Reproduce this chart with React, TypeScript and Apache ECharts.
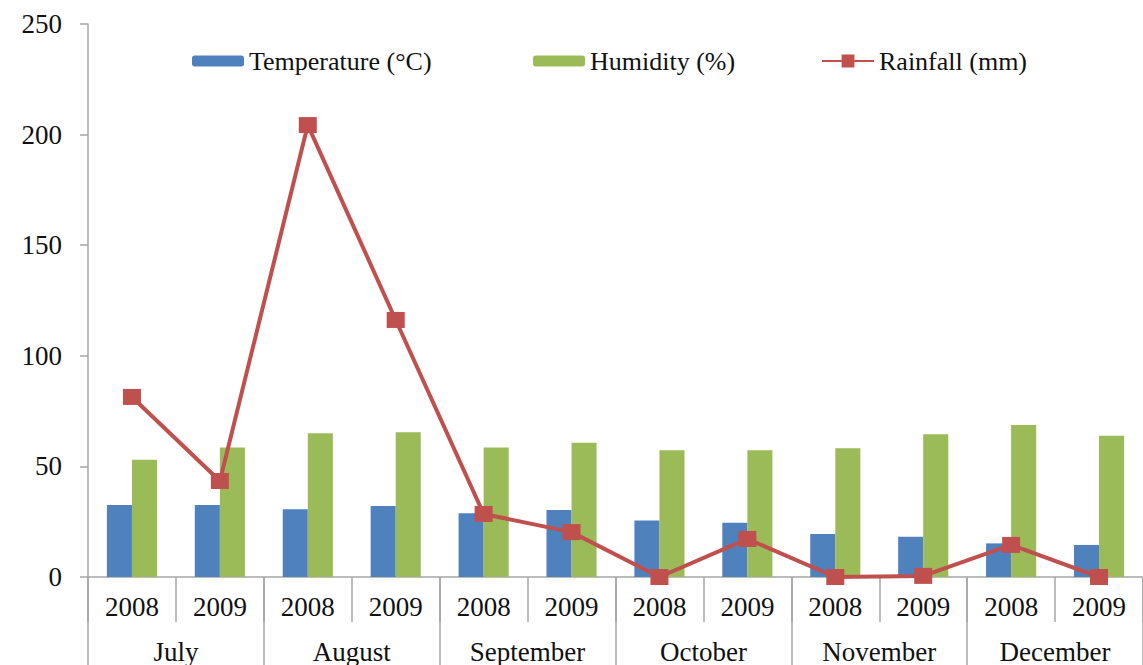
import React, { useEffect, useRef } from "react";
import * as echarts from "echarts";

const years = ["2008", "2009", "2008", "2009", "2008", "2009", "2008", "2009", "2008", "2009", "2008", "2009"];
const months = ["July", "August", "September", "October", "November", "December"];
const temperature = [32.5, 32.5, 30.6, 32.1, 28.8, 30.3, 25.5, 24.5, 19.4, 18.2, 15.2, 14.5];
const humidity = [53, 58.6, 65, 65.4, 58.6, 60.7, 57.3, 57.3, 58.2, 64.5, 68.7, 63.9];
const rainfall = [81.4, 43.4, 204.3, 116.2, 28.5, 20.3, 0, 17.2, 0, 0.5, 14.5, 0];
const seriesNames = ["Temperature (°C)", "Humidity (%)", "Rainfall (mm)"];

const FONT = "Liberation Serif";
const AXIS_GRAY = "#A6A6A6";

export default function App() {
  const ref = useRef<HTMLDivElement>(null);
  useEffect(() => {
    if (!ref.current) return;
    const chart = echarts.init(ref.current, undefined, { renderer: "svg" });
    const legendText = { fontFamily: FONT, fontSize: 26, color: "#111" };
    chart.setOption({
      animation: false,
      backgroundColor: "#fff",
      grid: { left: 88, top: 24, width: 1062, height: 553 },
      legend: [
        { data: [seriesNames[0]], left: 187, top: 43, itemWidth: 52, itemHeight: 11, textStyle: legendText },
        { data: [seriesNames[1]], left: 528, top: 43, itemWidth: 52, itemHeight: 11, textStyle: legendText },
        { data: [seriesNames[2]], left: 816, top: 43, itemWidth: 52, itemHeight: 16, textStyle: legendText },
      ],
      xAxis: [
        {
          type: "category",
          data: years,
          position: "bottom",
          axisLine: { show: true, lineStyle: { color: AXIS_GRAY, width: 1.5 } },
          axisTick: { show: true, interval: 0, length: 45, lineStyle: { color: AXIS_GRAY, width: 1.5 } },
          axisLabel: { interval: 0, margin: 16, fontFamily: FONT, fontSize: 27, color: "#111" },
        },
        {
          type: "category",
          data: months,
          position: "bottom",
          axisLine: { show: false },
          axisTick: { show: true, interval: 0, length: 110, lineStyle: { color: AXIS_GRAY, width: 1.5 } },
          axisLabel: { interval: 0, margin: 61, fontFamily: FONT, fontSize: 27, color: "#111" },
        },
      ],
      yAxis: {
        type: "value",
        min: 0,
        max: 250,
        interval: 50,
        axisLine: { show: true, lineStyle: { color: AXIS_GRAY, width: 1.5 } },
        axisTick: { show: true, length: 8, lineStyle: { color: AXIS_GRAY, width: 1.5 } },
        splitLine: { show: false },
        axisLabel: { margin: 26, fontFamily: FONT, fontSize: 27, color: "#111" },
      },
      series: [
        {
          name: seriesNames[0],
          type: "bar",
          xAxisIndex: 0,
          data: temperature,
          itemStyle: { color: "#4F81BD" },
          barGap: "0%",
          barCategoryGap: "43%",
        },
        {
          name: seriesNames[1],
          type: "bar",
          xAxisIndex: 0,
          data: humidity,
          itemStyle: { color: "#9BBB59" },
        },
        {
          name: seriesNames[2],
          type: "line",
          xAxisIndex: 0,
          data: rainfall,
          symbol: "rect",
          symbolSize: [18, 16],
          lineStyle: { color: "#C0504D", width: 4 },
          itemStyle: { color: "#C0504D" },
          z: 5,
        },
      ],
    });
    return () => chart.dispose();
  }, []);
  return <div ref={ref} style={{ position: "fixed", left: 0, top: 0, width: 1143, height: 665 }} />;
}
